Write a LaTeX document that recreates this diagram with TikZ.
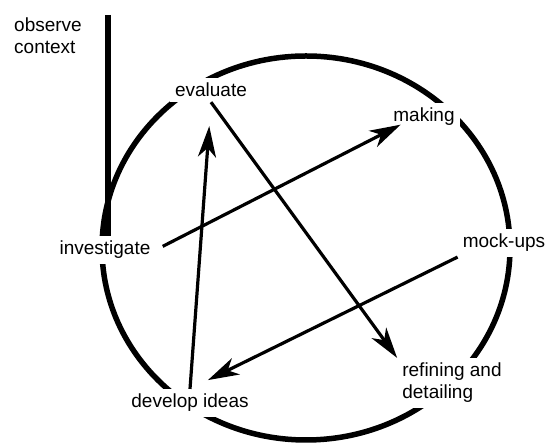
\documentclass[tikz,border=0pt]{standalone}
\usepackage{fontspec}
\setmainfont{Liberation Sans}
\usetikzlibrary{arrows.meta}

\begin{document}
\begin{tikzpicture}[x=1pt, y=1pt, >={Stealth[length=31pt, width=18pt, inset=9pt]},
    stage/.style={fill=white, inner sep=5pt, font=\fontsize{19}{22}\selectfont},
    ring/.style={line width=5.5pt},
    link/.style={->, line width=3.2pt}]
    \useasboundingbox (0,0) rectangle (552,443);

    \draw[ring] (306,195) ellipse (204pt and 192pt);

    \node[stage, align=left] (context) at (48,407) {observe\\context};
    \node[stage] (evaluate) at (211,353) {evaluate};
    \node[stage] (making) at (424,326) {making};
    \node[stage] (mockups) at (504,200) {mock-ups};
    \node[stage] (investigate) at (105,193) {investigate};
    \node[stage] (develop) at (190,40) {develop ideas};
    \node[stage, align=left] (refining) at (452,60) {refining and\\detailing};

    \coordinate (top) at (108,428);
    \draw[line width=6pt] (top) -- (top |- investigate.north);

    \draw[link, shorten <=8pt, shorten >=-14pt] (investigate.east) -- (making.south west);
    \draw[link, shorten >=24pt] (develop.north) -- (evaluate.south);
    \draw[link] (evaluate.south) -- (refining.north west);
    \draw[link, shorten >=20pt] (mockups.south west) -- (develop.north);
\end{tikzpicture}
\end{document}
